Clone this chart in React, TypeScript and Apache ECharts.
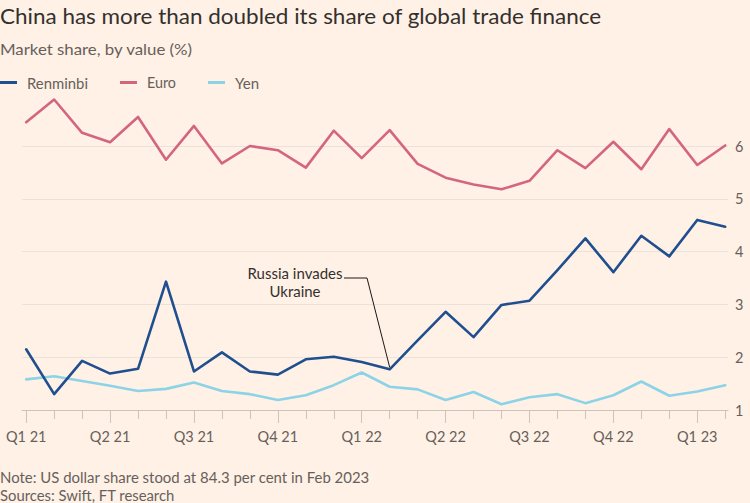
import React, { useEffect, useRef } from 'react';
import * as echarts from 'echarts';

// ---- data ----
const months = [
  'Jan 21', 'Feb 21', 'Mar 21', 'Apr 21', 'May 21', 'Jun 21', 'Jul 21', 'Aug 21', 'Sep 21', 'Oct 21', 'Nov 21', 'Dec 21',
  'Jan 22', 'Feb 22', 'Mar 22', 'Apr 22', 'May 22', 'Jun 22', 'Jul 22', 'Aug 22', 'Sep 22', 'Oct 22', 'Nov 22', 'Dec 22',
  'Jan 23', 'Feb 23',
];
const quarterLabels = ['Q1 21', 'Q2 21', 'Q3 21', 'Q4 21', 'Q1 22', 'Q2 22', 'Q3 22', 'Q4 22', 'Q1 23'];
const quarterMonthIndex = [0, 3, 6, 9, 12, 15, 18, 21, 24];

const seriesNames = ['Renminbi', 'Euro', 'Yen'];
const renminbi = [2.15, 1.3, 1.93, 1.69, 1.78, 3.43, 1.73, 2.09, 1.73, 1.67, 1.96, 2.01, 1.91, 1.77, 2.32, 2.86, 2.38, 2.99, 3.07, 3.65, 4.25, 3.61, 4.3, 3.91, 4.6, 4.47];
const euro = [6.45, 6.88, 6.25, 6.07, 6.55, 5.74, 6.38, 5.67, 6.0, 5.92, 5.59, 6.29, 5.77, 6.3, 5.66, 5.4, 5.27, 5.18, 5.34, 5.92, 5.58, 6.08, 5.56, 6.32, 5.64, 6.01];
const yen = [1.58, 1.64, 1.55, 1.46, 1.36, 1.4, 1.52, 1.36, 1.3, 1.19, 1.28, 1.47, 1.71, 1.44, 1.39, 1.19, 1.34, 1.11, 1.24, 1.3, 1.13, 1.28, 1.54, 1.27, 1.35, 1.47];

const yMin = 1;
const yMax = 6;
const yInterval = 1;

const annotationMonth = 'Feb 22';
const annotationLines = ['Russia invades', 'Ukraine'];

const titleText = 'China has more than doubled its share of global trade finance';
const subtitleText = 'Market share, by value (%)';
const noteText = 'Note: US dollar share stood at 84.3 per cent in Feb 2023';
const sourceText = 'Sources: Swift, FT research';

// ---- styles ----
const BG = '#FFF1E5';
const FONT = "Lato, 'Noto Sans', sans-serif";
const COLORS = ['#1f4f8f', '#d4657f', '#8dd3e8'];
const C_TEXT = '#33302e';
const C_MUTED = '#66605c';
const C_GRID = '#ebe2d9';
const C_AXIS = '#cdc3ba';

// legend layout: marker left x, text target width
const legendX = [0, 120, 208];
const legendTextW = [61, 29, 24];

let measureCtx: CanvasRenderingContext2D | null = null;
function fitScale(text: string, size: number, target: number) {
  if (!measureCtx) measureCtx = document.createElement('canvas').getContext('2d');
  if (!measureCtx) return 1;
  measureCtx.font = `normal ${size}px ${FONT}`;
  const w = measureCtx.measureText(text).width;
  return w > 0 ? target / w : 1;
}

function scaledText(text: string, x: number, y: number, size: number, targetW: number, color: string, align: string = 'left') {
  return {
    type: 'text',
    x,
    y,
    scaleX: fitScale(text, size, targetW),
    silent: true,
    style: {
      text,
      x: 0,
      y: 0,
      fill: color,
      font: `normal ${size}px ${FONT}`,
      textAlign: align,
      textVerticalAlign: 'middle',
    },
  };
}

export default function App() {
  const ref = useRef<HTMLDivElement>(null);

  useEffect(() => {
    document.body.style.margin = '0';
    if (!ref.current) return;
    const chart = echarts.init(ref.current, null, { renderer: 'svg' });

    const xMin = -0.15;
    const xMax = months.length - 1 + 0.1;
    const monthIdx = months.map((_, i) => i);
    const allValues = [renminbi, euro, yen];

    const series = seriesNames.map((name, k) => ({
      name,
      type: 'line',
      data: allValues[k].map((v, i) => [i, v]),
      showSymbol: false,
      symbol: 'none',
      clip: false,
      z: k === 0 ? 4 : 4 - k,
      lineStyle: { color: COLORS[k], width: 2.6, join: 'round', cap: 'round' },
      itemStyle: { color: COLORS[k] },
      emphasis: { disabled: true },
    }));

    chart.setOption({
      animation: false,
      backgroundColor: BG,
      textStyle: { fontFamily: FONT },
      grid: { left: 22, right: 22, top: 146, bottom: 93, containLabel: false },
      xAxis: [
        {
          type: 'value',
          min: xMin,
          max: xMax,
          position: 'bottom',
          axisLine: { show: true, onZero: false, lineStyle: { color: C_AXIS, width: 1 } },
          axisTick: { show: true, customValues: monthIdx, length: 9, lineStyle: { color: C_AXIS } },
          axisLabel: {
            show: true,
            customValues: quarterMonthIndex,
            formatter: (v: number) => {
              const k = quarterMonthIndex.indexOf(Math.round(v));
              return k >= 0 ? quarterLabels[k] : '';
            },
            color: C_MUTED,
            fontSize: 14.5,
            fontFamily: FONT,
            margin: 19,
          },
          splitLine: { show: false },
        },
        {
          type: 'value',
          min: xMin,
          max: xMax,
          position: 'bottom',
          axisLine: { show: false, onZero: false },
          axisTick: { show: true, customValues: quarterMonthIndex, length: 13, lineStyle: { color: C_AXIS } },
          axisLabel: { show: false },
          splitLine: { show: false },
        },
      ],
      yAxis: {
        type: 'value',
        position: 'right',
        min: yMin,
        max: yMax,
        interval: yInterval,
        axisLine: { show: false },
        axisTick: { show: false },
        axisLabel: { color: C_MUTED, fontSize: 14.5, fontFamily: FONT, margin: 7 },
        splitLine: { show: true, lineStyle: { color: C_GRID, width: 1 } },
      },
      series,
    });

    const ai = months.indexOf(annotationMonth);
    const p = chart.convertToPixel({ xAxisIndex: 0, yAxisIndex: 0 }, [ai, renminbi[ai]]) as number[];

    const legendGraphics: any[] = [];
    seriesNames.forEach((name, k) => {
      legendGraphics.push({
        type: 'rect',
        silent: true,
        shape: { x: legendX[k], y: 81, width: 17, height: 3 },
        style: { fill: COLORS[k] },
      });
      legendGraphics.push(scaledText(name, legendX[k] + 27, 82.5, 15, legendTextW[k], C_MUTED));
    });

    chart.setOption({
      graphic: [
        scaledText(titleText, 0, 16, 22, 602, C_TEXT),
        scaledText(subtitleText, 0, 49, 16, 193, C_MUTED),
        ...legendGraphics,
        scaledText(noteText, 0, 477, 15, 370, C_MUTED),
        scaledText(sourceText, 0, 495, 15, 175, C_MUTED),
        scaledText(annotationLines[0], 295, 273, 14.5, 95, C_TEXT, 'center'),
        scaledText(annotationLines[1], 295, 291, 14.5, 51, C_TEXT, 'center'),
        {
          type: 'polyline',
          silent: true,
          z: 10,
          shape: { points: [[344, 278], [367, 278], [p[0], p[1] - 2]] },
          style: { stroke: '#1a1817', lineWidth: 1, fill: 'none' },
        },
      ],
    });

    return () => chart.dispose();
  }, []);

  return <div ref={ref} style={{ width: 750, height: 503, background: BG }} />;
}
